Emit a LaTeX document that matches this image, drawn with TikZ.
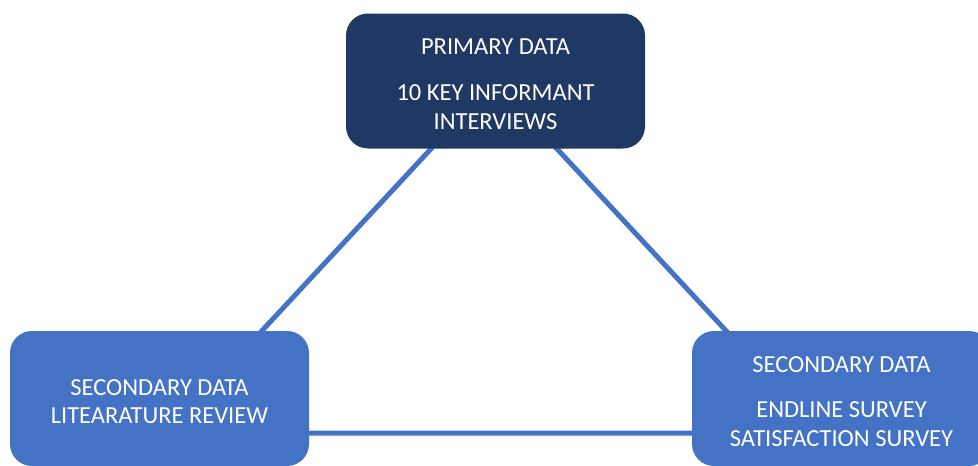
\documentclass[tikz,border=0pt]{standalone}
\usepackage{fontspec}
\setmainfont{Carlito}
\definecolor{navybox}{HTML}{203864}
\definecolor{bluebox}{HTML}{4472C4}
% invisible strut on the first line: lowers the text block slightly in its box
\newcommand\toppad{\rule{0pt}{22pt}}
\begin{document}
\begin{tikzpicture}[x=1pt,y=-1pt,
  databox/.style={rectangle, rounded corners=22pt, minimum width=299pt,
    minimum height=135pt, align=center, text=white, inner sep=0pt,
    font=\fontsize{24.5}{28.8}\selectfont},
  link/.style={draw=bluebox, line width=5pt}]
  \useasboundingbox (0,0) rectangle (978,466);

  % corners of the triangle that joins the three sources
  \coordinate (apex) at (494,81);
  \coordinate (cl) at (167,433);
  \coordinate (cr) at (821,433);

  \draw[link] (apex) -- (cl) -- (cr) -- cycle;

  \node[databox, fill=navybox] (primary) at (495.5,81)
    {\toppad PRIMARY DATA\\[17pt]10 KEY INFORMANT\\INTERVIEWS};
  \node[databox, fill=bluebox] (review) at (159.5,398.5)
    {\toppad SECONDARY DATA\\LITEARATURE REVIEW};
  \node[databox, fill=bluebox] (survey) at (841.5,398.5)
    {\toppad SECONDARY DATA\\[17pt]ENDLINE SURVEY\\SATISFACTION SURVEY};
\end{tikzpicture}
\end{document}
